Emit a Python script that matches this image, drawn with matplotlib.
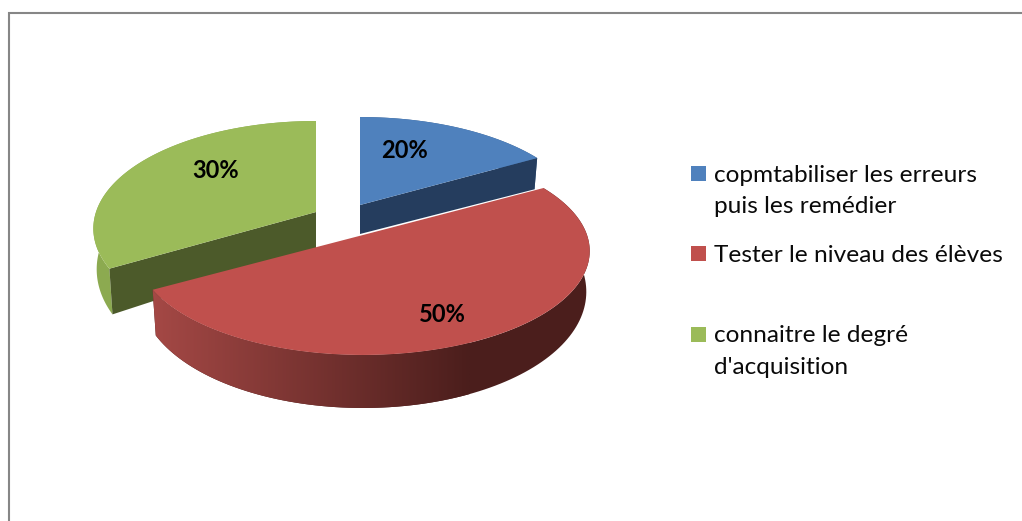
import numpy as np
import matplotlib
matplotlib.use('Agg')
import matplotlib.pyplot as plt
from matplotlib.colors import LinearSegmentedColormap
from matplotlib.patches import Polygon

# The wedges are drawn about 1:3:2, the typed labels say 20/50/30
shares = [16.7, 50.0, 33.3]
pct_labels = ['20%', '50%', '30%']
legend_labels = ['copmtabiliser les erreurs\npuis les remédier',
                 'Tester le niveau des élèves',
                 'connaitre le degré\nd\'acquisition']

top_colors = ['#4F81BD', '#C0504D', '#9BBB59']
face_colors = ['#253D5E', '#5A2120', '#4C5A2A']
wall_colors = ['#3A5F8C', '#8F3F3C', '#8CAA50']

# picture is laid out in pixels
W, H = 1022, 521
persp = 0.154
radius = [220, 224, 220]
depth = [101.5, 101.5, 105]
apex = [(360, 205), (363, 235), (316, 212)]
apex_h = [29, 33, 36]


def rim(i, deg):
    t = np.radians(deg)
    s = 1 / (1 + persp * np.cos(t))
    return apex[i][0] + radius[i] * np.sin(t) * s, apex[i][1] - depth[i] * np.cos(t) * s


def rim_h(deg):
    return 38.5 - 14.5 * np.cos(np.radians(deg))


fig = plt.figure(figsize=(W / 100, H / 100), dpi=100)
ax = fig.add_axes([0, 0, 1, 1])

# chart frame, the bottom and right sides are cut off
ax.plot([8.5, 8.5, W], [H, 12.5, 12.5], color='#868686', lw=1.5, solid_joinstyle='miter')

edges = np.concatenate([[0], np.cumsum(shares)]) * 3.6
red_shade = LinearSegmentedColormap.from_list('red_shade', ['#A84A47', '#4B1E1C'])

# back slices first, red goes on top
for i in [2, 0, 1]:
    cx, cy = apex[i]
    degs = np.linspace(edges[i], edges[i + 1], 121)
    xs, ys = rim(i, degs)
    hs = rim_h(degs)
    xb = cx + (xs - cx) * 0.985
    wall_x = np.r_[xs, xb[::-1]]
    wall_y = np.r_[ys, (ys + hs)[::-1]]

    if i == 1:
        # red wall is shaded from left to right, dark on the right of the gradient
        ax.fill(wall_x, wall_y, color='#4B1E1C', lw=0, zorder=1.4)
        img = ax.imshow(np.linspace(0, 1, 256).reshape(1, -1), cmap=red_shade,
                        extent=(140, 470, 420, 150), aspect='auto', zorder=1.5)
        img.set_clip_path(Polygon(np.c_[wall_x, wall_y], transform=ax.transData))
    else:
        ax.fill(wall_x, wall_y, color=wall_colors[i], lw=0, zorder=1 + i * 0.01)

    # flat cut face that looks to the viewer (red one is hidden)
    if i != 1:
        j = 0 if i == 2 else -1
        ax.fill([cx, xs[j], xb[j], cx],
                [cy, ys[j], ys[j] + hs[j], cy + apex_h[i]],
                color=face_colors[i], lw=0, zorder=1.1)

    # top of the slice
    ax.fill(np.r_[cx, xs], np.r_[cy, ys], color=top_colors[i], lw=0, zorder=1.2 if i != 1 else 1.6)

ax.set_xlim(0, W)
ax.set_ylim(H, 0)
ax.axis('off')

label_xy = [(404, 150), (442, 314), (216, 170)]
for txt, (x, y) in zip(pct_labels, label_xy):
    ax.text(x, y, txt, fontsize=17, fontweight='bold', family='Lato',
            ha='center', va='center', color='black', zorder=3)

# legend
legend_y = [173.5, 253.5, 334.5]
for lab, c, y in zip(legend_labels, top_colors, legend_y):
    ax.fill([691, 706, 706, 691], [y - 7.5, y - 7.5, y + 7.5, y + 7.5], color=c, lw=0)
    ax.text(714, y - 9, lab, fontsize=17.6, family='Lato', color='#0A0A0A',
            ha='left', va='top', linespacing=1.6)

fig.savefig('out.png', dpi=100)
